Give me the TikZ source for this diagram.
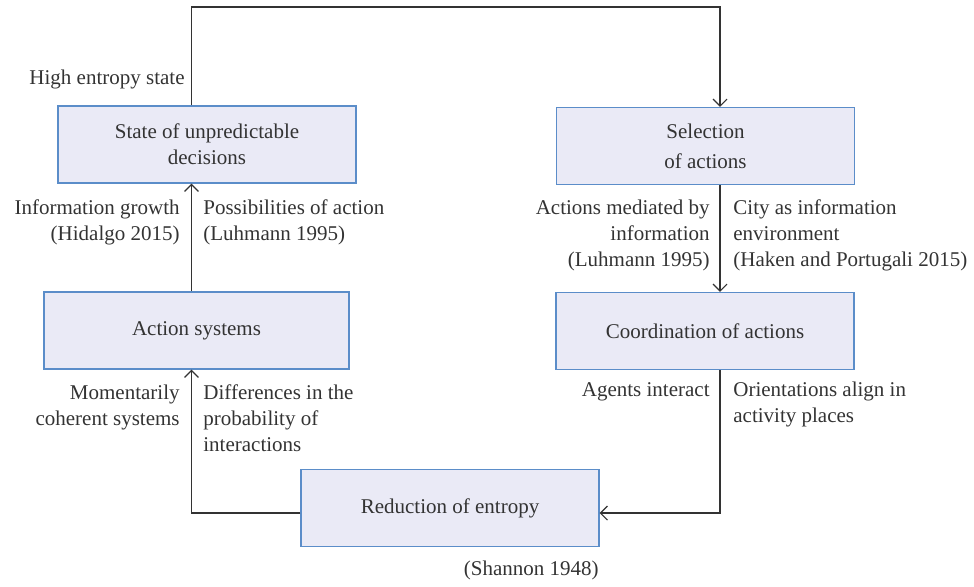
\documentclass[tikz,border=0pt]{standalone}
\usepackage{fontspec}
\setmainfont{Liberation Serif}
\usetikzlibrary{arrows.meta}
\definecolor{boxfill}{RGB}{234,234,246}
\definecolor{boxline}{RGB}{91,141,201}
\definecolor{txt}{RGB}{51,51,51}
\tikzset{
	stage/.style={draw=boxline,fill=boxfill,line width=.7pt,align=center,inner sep=0pt,minimum width=149pt,minimum height=38.5pt},
	lab/.style={inner sep=0pt},
	link/.style={-{Straight Barb[length=3.5pt,width=7pt]},line width=.55pt,draw=txt},
}
\begin{document}
\begin{tikzpicture}[x=.5pt,y=-.5pt,font=\fontsize{10.5}{13}\selectfont,text=txt]
		\useasboundingbox (0,0) rectangle (974,586);
		% stages of the cycle
		\node[stage] (sud) at (207,144.5) {State of unpredictable\\decisions};
		\node[stage] (sel) at (705.5,146) {Selection\\[2pt]of actions};
		\node[stage,minimum width=152.5pt] (acs) at (196.5,330.5) {Action systems};
		\node[stage] (coo) at (705,331) {Coordination of actions};
		\node[stage] (red) at (450,508) {Reduction of entropy};
		% guide lines for the connectors
		\coordinate (xl) at (191.5,0);
		\coordinate (xr) at (720,0);
		\coordinate (top) at (0,7);
		\coordinate (low) at (0,513);
		\draw[link] (sud.north -| xl) -- (xl |- top) -- (xr |- top) -- (sel.north -| xr);
		\draw[link] (sel.south -| xr) -- (coo.north -| xr);
		\draw[link] (coo.south -| xr) -- (xr |- low) -- (red.east |- low);
		\draw[link] (red.west |- low) -- (xl |- low) -- (acs.south -| xl);
		\draw[link] (acs.north -| xl) -- (sud.south -| xl);
		% labels (base = baseline of the last line)
		\node[lab,anchor=base east] (hes) at (185,84) {High entropy state};
		\node[lab,anchor=base east,align=right] (ig) at (180,240) {Information growth\\(Hidalgo 2015)};
		\node[lab,anchor=base west,align=left] (pa) at (203,240) {Possibilities of action\\(Luhmann 1995)};
		\node[lab,anchor=base east,align=right] (am) at (710,266) {Actions mediated by\\information\\(Luhmann 1995)};
		\node[lab,anchor=base west,align=left] (ci) at (733,266) {City as information\\environment\\(Haken and Portugali 2015)};
		\node[lab,anchor=base east,align=right] (mc) at (180,425) {Momentarily\\coherent systems};
		\node[lab,anchor=base west,align=left] (dp) at (203,451) {Differences in the\\probability of\\interactions};
		\node[lab,anchor=base east] (ai) at (710,396) {Agents interact};
		\node[lab,anchor=base west,align=left] (oa) at (733,422) {Orientations align in\\activity places};
		\node[lab,anchor=base east] (sh) at (599,575) {(Shannon 1948)};
\end{tikzpicture}
\end{document}
